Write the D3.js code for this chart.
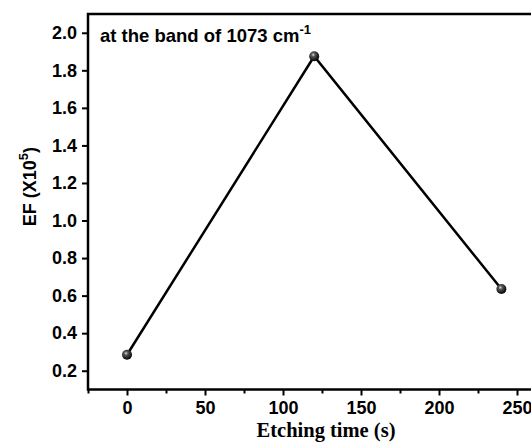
<!DOCTYPE html>
<html>
<head>
<meta charset="utf-8">
<script src="https://cdn.jsdelivr.net/npm/d3@7"></script>
<style>
body { margin: 0; background: #fff; }
svg { display: block; }
.tick text { font-family: Arial, "Liberation Sans", sans-serif; font-weight: bold; font-size: 18px; fill: #000; }
</style>
</head>
<body>
<script>
var times = [0, 120, 240];
var efValues = [0.285, 1.875, 0.635];
var xTicks = [0, 50, 100, 150, 200, 250];
var yTicks = [0.2, 0.4, 0.6, 0.8, 1.0, 1.2, 1.4, 1.6, 1.8, 2.0];

var width = 531,
	height = 445;
var padding = {left: 88, top: 14};
var plotW = 468, plotH = 375.5;

var svg = d3.select("body")
		.append("svg")
		.attr("width", width)
		.attr("height", height)

var defs = svg.append('defs');
var grad = defs.append('radialGradient').attr('id', 'ball')
	.attr('cx', '40%').attr('cy', '35%').attr('r', '65%');
grad.append('stop').attr('offset', '0%').attr('stop-color', '#d8d8d8');
grad.append('stop').attr('offset', '30%').attr('stop-color', '#555');
grad.append('stop').attr('offset', '100%').attr('stop-color', '#000');

var chart = svg.append('g').attr('transform', `translate(${padding.left}, ${padding.top})`);

var xScale = d3.scaleLinear().domain([-25, 275]).range([0, plotW]);
var yScale = d3.scaleLinear().domain([0.1, 2.1]).range([plotH, 0]);

// minor x ticks
chart.append('g').attr('transform', `translate(0, ${plotH})`)
	.call(d3.axisBottom(xScale).tickValues(d3.range(-25, 276, 50)).tickSize(4).tickFormat(''))
	.call(g => g.select('.domain').remove())
	.selectAll('line').attr('stroke-width', 2);

var xAxis = chart.append('g').attr('transform', `translate(0, ${plotH})`)
	.call(d3.axisBottom(xScale).tickValues(xTicks).tickSize(6).tickPadding(6).tickFormat(d3.format('d')));
var yAxis = chart.append('g')
	.call(d3.axisLeft(yScale).tickValues(yTicks).tickSize(6).tickPadding(5).tickFormat(d3.format('.1f')));

[xAxis, yAxis].forEach(a => {
	a.select('.domain').remove();
	a.selectAll('line').attr('stroke-width', 2);
});

// frame
chart.append('rect')
	.attr('x', 0).attr('y', 0)
	.attr('width', plotW).attr('height', plotH)
	.attr('fill', 'none').attr('stroke', '#000').attr('stroke-width', 2.5);

var pts = times.map((t, i) => [t, efValues[i]]);

chart.append('path')
	.datum(pts)
	.attr('fill', 'none')
	.attr('stroke', '#000')
	.attr('stroke-width', 2.5)
	.attr('d', d3.line().x(d => xScale(d[0])).y(d => yScale(d[1])));

chart.selectAll('.pt')
	.data(pts)
	.enter()
	.append('circle')
	.attr('cx', d => xScale(d[0]))
	.attr('cy', d => yScale(d[1]))
	.attr('r', 5)
	.attr('fill', 'url(#ball)');

// annotation
var note = chart.append('text')
	.attr('x', 12).attr('y', 28)
	.attr('font-family', 'Arial, "Liberation Sans", sans-serif')
	.attr('font-weight', 'bold')
	.attr('font-size', 18.5);
note.append('tspan').text('at the band of 1073 cm');
note.append('tspan').attr('dy', -8).attr('font-size', 13).text('-1');

// axis titles
svg.append('text')
	.attr('x', 326)
	.attr('y', 437)
	.attr('text-anchor', 'middle')
	.attr('font-family', '"Liberation Serif", "Times New Roman", serif')
	.attr('font-weight', 'bold')
	.attr('font-size', 20.5)
	.text('Etching time (s)');

var yl = svg.append('text')
	.attr('transform', `translate(36, ${padding.top + yScale(1.18)}) rotate(-90)`)
	.attr('text-anchor', 'middle')
	.attr('font-family', 'Arial, "Liberation Sans", sans-serif')
	.attr('font-weight', 'bold')
	.attr('font-size', 18);
yl.append('tspan').text('EF (X10');
yl.append('tspan').attr('dy', -8).attr('font-size', 13).text('5');
yl.append('tspan').attr('dy', 8).text(')');
</script>
</body>
</html>
